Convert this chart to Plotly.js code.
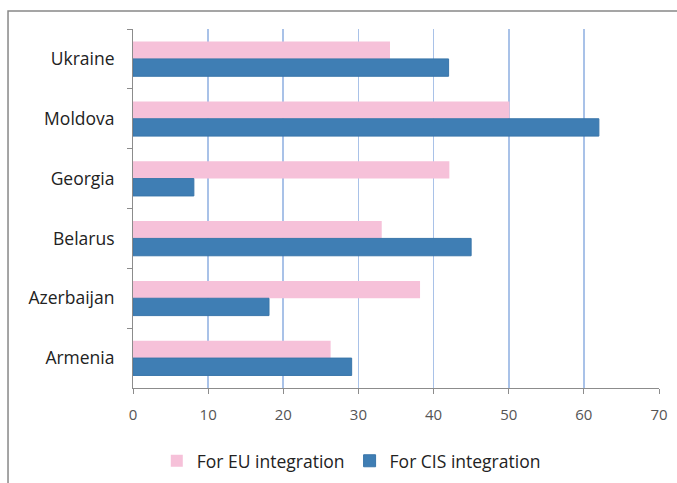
<!DOCTYPE html>
<html>
<head>
<meta charset="utf-8">
<script src="https://cdn.plot.ly/plotly-3.0.1.min.js"></script>
<style>html,body{margin:0;padding:0;background:#fff;}#chart{width:677px;height:483px;}</style>
</head>
<body>
<div id="chart"></div>
<script>
var countries = ["Ukraine", "Moldova", "Georgia", "Belarus", "Azerbaijan", "Armenia"];
var euValues = [34.2, 50.1, 42.1, 33.1, 38.2, 26.3];
var cisValues = [42.0, 62.0, 8.1, 45.0, 18.1, 29.1];
var seriesNames = ["For EU integration", "For CIS integration"];
var xTicks = [0, 10, 20, 30, 40, 50, 60, 70];

var traces = [
  {type: "bar", orientation: "h", name: seriesNames[0], y: countries, x: euValues,
   marker: {color: "#F6C1D9"}, hoverinfo: "x+y"},
  {type: "bar", orientation: "h", name: seriesNames[1], y: countries, x: cisValues,
   marker: {color: "#3F7EB4", line: {color: "#3A76AA", width: 1}}, hoverinfo: "x+y"}
];

var layout = {
  width: 677, height: 483,
  margin: {l: 133, r: 18, t: 29, b: 95, autoexpand: false},
  paper_bgcolor: "#ffffff", plot_bgcolor: "#ffffff",
  barmode: "group", bargap: 0.42, bargroupgap: 0,
  font: {family: "Open Sans, sans-serif", color: "#222"},
  xaxis: {
    range: [0, 70], tickvals: xTicks, ticktext: xTicks.map(String),
    showgrid: true, gridcolor: "#A9C2E8", gridwidth: 1.6,
    zeroline: false, showline: true, linecolor: "#8C8C8C", linewidth: 1,
    ticks: "outside", ticklen: 5, tickcolor: "#8C8C8C",
    tickfont: {size: 15, color: "#555555"}, ticklabelstandoff: 8,
    automargin: false, fixedrange: true
  },
  yaxis: {
    type: "category", categoryorder: "array", categoryarray: countries,
    autorange: "reversed",
    showgrid: false, zeroline: false, showline: true, linecolor: "#8C8C8C", linewidth: 1,
    ticks: "outside", ticklen: 5, tickcolor: "#8C8C8C", tickson: "boundaries",
    tickfont: {size: 17.5, color: "#222222"}, ticklabelstandoff: 14,
    automargin: false, fixedrange: true
  },
  legend: {
    orientation: "h", x: 0.415, xanchor: "center", y: -0.203, yanchor: "middle",
    font: {size: 17.5, color: "#222222"}, traceorder: "normal", itemclick: false
  },
  shapes: [{
    type: "rect", xref: "paper", yref: "paper",
    x0: -0.2376, x1: 1.1, y0: -0.4, y1: 1.05,
    line: {color: "#888888", width: 1.5}, fillcolor: "rgba(0,0,0,0)", layer: "below"
  }]
};

Plotly.newPlot("chart", traces, layout, {displayModeBar: false, staticPlot: true});
</script>
</body>
</html>
